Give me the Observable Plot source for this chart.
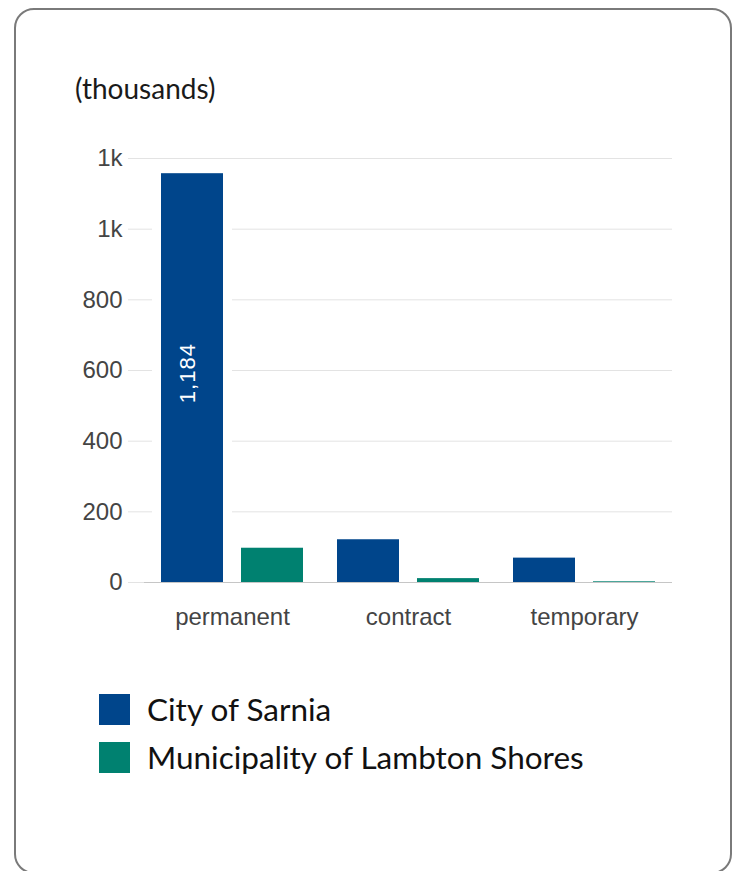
<!DOCTYPE html>
<html>
<head>
<meta charset="utf-8">
<script src="https://cdn.jsdelivr.net/npm/d3@7"></script>
<script src="https://cdn.jsdelivr.net/npm/@observablehq/plot@0.6"></script>
<style>
  html, body { margin: 0; padding: 0; background: #fff; }
  body { width: 739px; height: 871px; position: relative; overflow: hidden; }
  #card { position: absolute; left: 14px; top: 8px; width: 718px; height: 866px;
          border: 2px solid #7a7a7a; border-radius: 20px; box-sizing: border-box; }
  #title { position: absolute; left: 75px; top: 72px; font-family: Lato, "Open Sans", sans-serif;
           font-size: 28px; line-height: 33px; color: #1a1a1a; white-space: nowrap; }
  #chart { position: absolute; left: 0; top: 0; }
  .lg { position: absolute; left: 99px; display: flex; align-items: center; white-space: nowrap;
        font-family: Lato, "Open Sans", sans-serif; font-size: 31.5px; color: #111; }
  .sw { width: 31px; height: 31px; margin-right: 17px; flex: none; }
  .lbl text { letter-spacing: 1px; }
</style>
</head>
<body>
<div id="card"></div>
<div id="title">(thousands)</div>
<div id="chart"></div>
<div id="legend"></div>
<script>
const categories = ["permanent", "contract", "temporary"];
const seriesNames = ["City of Sarnia", "Municipality of Lambton Shores"];
const sarnia = [1157, 121, 69];
const lambton = [97, 11, 2];
const sarniaLabels = ["1,184", "", ""];
const yTicks = [0, 200, 400, 600, 800, 1000, 1200];
const colors = ["#00458b", "#008170"];

const data = categories.flatMap((c, i) => [
  {category: c, series: seriesNames[0], value: sarnia[i], label: sarniaLabels[i]},
  {category: c, series: seriesNames[1], value: lambton[i], label: ""}
]);

const fmt = d => d >= 1000 ? Math.floor(d / 1000) + "k" : String(d);

const chart = Plot.plot({
  width: 739,
  height: 650,
  marginLeft: 143,
  marginRight: 67,
  marginTop: 158,
  marginBottom: 68,
  fx: {domain: categories, padding: 0, label: null},
  x: {domain: seriesNames, paddingInner: 0.225, paddingOuter: 0.2, axis: null},
  y: {domain: [0, 1200]},
  color: {domain: seriesNames, range: colors},
  style: {fontFamily: "'Liberation Sans', Arial, sans-serif", fontSize: "24px", background: "transparent"},
  marks: [
    Plot.gridY(yTicks, {stroke: "#e3e3e3", strokeOpacity: 1}),
    Plot.axisY(yTicks, {tickSize: 16, tickPadding: 6, stroke: "#e3e3e3", strokeOpacity: 1, fill: "#444", tickFormat: fmt, label: null, fontSize: 24}),
    Plot.barY(data, {fx: "category", x: "series", y: "value", fill: "white", stroke: "white", strokeWidth: 18}),
    Plot.ruleY([0], {stroke: "#c6c6c6"}),
    Plot.barY(data, {fx: "category", x: "series", y: "value", fill: "series"}),
    Plot.text(data.filter(d => d.label), {fx: "category", x: "series", y: d => d.value / 2, text: "label", rotate: -90, fill: "white", fontSize: 22, dx: -5, dy: -5, className: "lbl"}),
    Plot.axisFx({anchor: "bottom", tickSize: 0, tickPadding: 25, fill: "#444", label: null, fontSize: 24})
  ]
});
document.getElementById("chart").appendChild(chart);

const legend = document.getElementById("legend");
const tops = [690, 738];
seriesNames.forEach((s, i) => {
  const row = document.createElement("div");
  row.className = "lg";
  row.style.top = tops[i] + "px";
  const sw = document.createElement("span");
  sw.className = "sw";
  sw.style.background = colors[i];
  const t = document.createElement("span");
  t.textContent = s;
  row.appendChild(sw);
  row.appendChild(t);
  legend.appendChild(row);
});
</script>
</body>
</html>
